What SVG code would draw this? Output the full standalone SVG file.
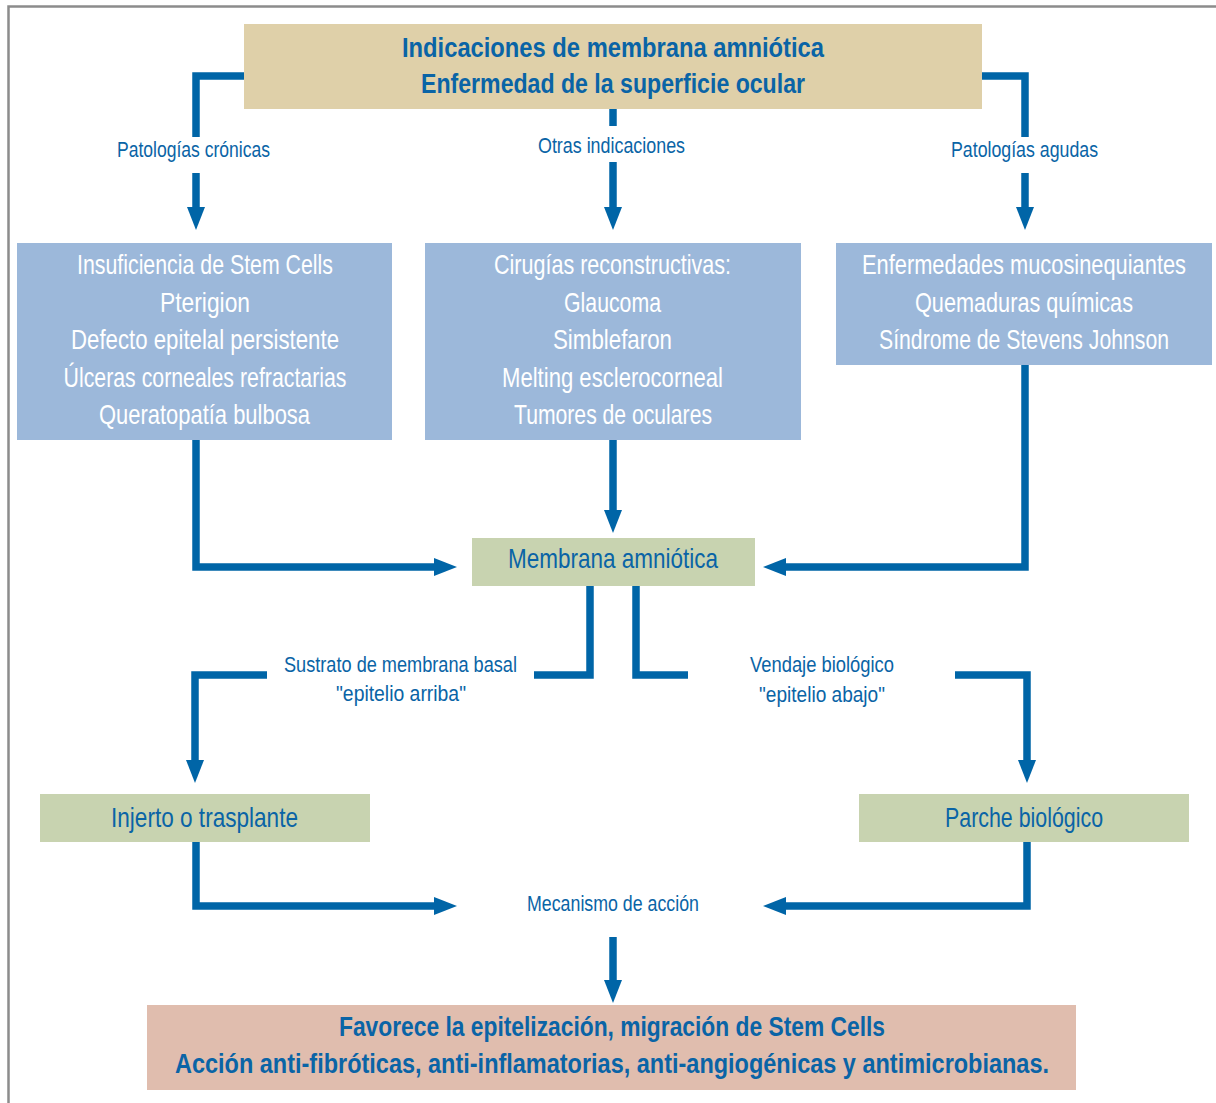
<svg xmlns="http://www.w3.org/2000/svg" width="1216" height="1103" viewBox="0 0 1216 1103">
<style>
text{font-family:"Liberation Sans",Arial,sans-serif;text-anchor:middle}
.t{font-size:28.5px;font-weight:bold;fill:#0a64a6}
.w{font-size:27px;fill:#ffffff}
.b{font-size:27px;fill:#0a64a6}
.l{font-size:22.5px;fill:#0a64a6}
.c{fill:none;stroke:#0065a7;stroke-width:7.5;stroke-linejoin:miter}
</style>
<defs>
<marker id="ah" markerUnits="userSpaceOnUse" markerWidth="24" markerHeight="18" refX="0" refY="9" orient="auto" viewBox="0 0 24 18">
<path d="M0,0 L23,9 L0,18 Z" fill="#0065a7"/>
</marker>
</defs>
<rect width="1216" height="1103" fill="#ffffff"/>
<path d="M8.5,1103 V6.5 H1216" fill="none" stroke="#8c8c8c" stroke-width="2.5"/>

<g id="connectors">
<path class="c" d="M244,76 H196 V137"/>
<path class="c" d="M196,173 V207" marker-end="url(#ah)"/>
<path class="c" d="M613,109 V126"/>
<path class="c" d="M613,162 V207" marker-end="url(#ah)"/>
<path class="c" d="M982,76 H1025 V137"/>
<path class="c" d="M1025,173 V207" marker-end="url(#ah)"/>
<path class="c" d="M196,440 V567 H434" marker-end="url(#ah)"/>
<path class="c" d="M613,440 V510" marker-end="url(#ah)"/>
<path class="c" d="M1025,365 V567 H786" marker-end="url(#ah)"/>
<path class="c" d="M590,586 V675 H534"/>
<path class="c" d="M636,586 V675 H688"/>
<path class="c" d="M267,675 H195 V760" marker-end="url(#ah)"/>
<path class="c" d="M955,675 H1027 V760" marker-end="url(#ah)"/>
<path class="c" d="M196,842 V906 H434" marker-end="url(#ah)"/>
<path class="c" d="M1027,842 V906 H786" marker-end="url(#ah)"/>
<path class="c" d="M613,937 V980" marker-end="url(#ah)"/>
</g>

<g id="labels">
<text class="l" transform="translate(193.5,157) scale(0.78,1)" textLength="196.2" lengthAdjust="spacingAndGlyphs">Patologías crónicas</text>
<text class="l" transform="translate(611.5,153) scale(0.78,1)" textLength="188.5" lengthAdjust="spacingAndGlyphs">Otras indicaciones</text>
<text class="l" transform="translate(1024.5,157) scale(0.78,1)" textLength="188.5" lengthAdjust="spacingAndGlyphs">Patologías agudas</text>
<text class="l" transform="translate(400.5,672) scale(0.78,1)" textLength="298.7" lengthAdjust="spacingAndGlyphs">Sustrato de membrana basal</text>
<text class="l" transform="translate(401,701) scale(0.78,1)" textLength="166.7" lengthAdjust="spacingAndGlyphs">"epitelio arriba"</text>
<text class="l" transform="translate(822,672) scale(0.78,1)" textLength="184.6" lengthAdjust="spacingAndGlyphs">Vendaje biológico</text>
<text class="l" transform="translate(822,702) scale(0.78,1)" textLength="161.5" lengthAdjust="spacingAndGlyphs">"epitelio abajo"</text>
<text class="l" transform="translate(613,911) scale(0.78,1)" textLength="220.5" lengthAdjust="spacingAndGlyphs">Mecanismo de acción</text>
</g>

<g id="top">
<rect x="244" y="24" width="738" height="85" fill="#dfd0a9"/>
<text class="t" transform="translate(613,57) scale(0.72,1)" textLength="586.1" lengthAdjust="spacingAndGlyphs">Indicaciones de membrana amniótica</text>
<text class="t" transform="translate(613,93) scale(0.72,1)" textLength="533.3" lengthAdjust="spacingAndGlyphs">Enfermedad de la superficie ocular</text>
</g>

<g id="chronic">
<rect x="17" y="243" width="375" height="197" fill="#9cb8da"/>
<text class="w" transform="translate(205,274) scale(0.78,1)" textLength="328.2" lengthAdjust="spacingAndGlyphs">Insuficiencia de Stem Cells</text>
<text class="w" transform="translate(205,311.5) scale(0.78,1)" textLength="115.4" lengthAdjust="spacingAndGlyphs">Pterigion</text>
<text class="w" transform="translate(205,349) scale(0.78,1)" textLength="343.6" lengthAdjust="spacingAndGlyphs">Defecto epitelal persistente</text>
<text class="w" transform="translate(205,386.5) scale(0.78,1)" textLength="362.8" lengthAdjust="spacingAndGlyphs">Úlceras corneales refractarias</text>
<text class="w" transform="translate(204.5,424) scale(0.78,1)" textLength="270.5" lengthAdjust="spacingAndGlyphs">Queratopatía bulbosa</text>
</g>

<g id="other">
<rect x="425" y="243" width="376" height="197" fill="#9cb8da"/>
<text class="w" transform="translate(612.5,274) scale(0.78,1)" textLength="303.8" lengthAdjust="spacingAndGlyphs">Cirugías reconstructivas:</text>
<text class="w" transform="translate(612.5,311.5) scale(0.78,1)" textLength="124.4" lengthAdjust="spacingAndGlyphs">Glaucoma</text>
<text class="w" transform="translate(612.5,349) scale(0.78,1)" textLength="152.6" lengthAdjust="spacingAndGlyphs">Simblefaron</text>
<text class="w" transform="translate(612.5,386.5) scale(0.78,1)" textLength="283.3" lengthAdjust="spacingAndGlyphs">Melting esclerocorneal</text>
<text class="w" transform="translate(613,424) scale(0.78,1)" textLength="253.8" lengthAdjust="spacingAndGlyphs">Tumores de oculares</text>
</g>

<g id="acute">
<rect x="836" y="243" width="376" height="122" fill="#9cb8da"/>
<text class="w" transform="translate(1024,274) scale(0.78,1)" textLength="415.4" lengthAdjust="spacingAndGlyphs">Enfermedades mucosinequiantes</text>
<text class="w" transform="translate(1024,311.5) scale(0.78,1)" textLength="279.5" lengthAdjust="spacingAndGlyphs">Quemaduras químicas</text>
<text class="w" transform="translate(1024,349) scale(0.78,1)" textLength="371.8" lengthAdjust="spacingAndGlyphs">Síndrome de Stevens Johnson</text>
</g>

<g id="membrana">
<rect x="472" y="538" width="283" height="48" fill="#c8d3b0"/>
<text class="b" transform="translate(613,568) scale(0.78,1)" textLength="269.2" lengthAdjust="spacingAndGlyphs">Membrana amniótica</text>
</g>

<g id="injerto">
<rect x="40" y="794" width="330" height="48" fill="#c8d3b0"/>
<text class="b" transform="translate(204.5,826.5) scale(0.78,1)" textLength="239.7" lengthAdjust="spacingAndGlyphs">Injerto o trasplante</text>
</g>

<g id="parche">
<rect x="859" y="794" width="330" height="48" fill="#c8d3b0"/>
<text class="b" transform="translate(1024,826.5) scale(0.78,1)" textLength="202.6" lengthAdjust="spacingAndGlyphs">Parche biológico</text>
</g>

<g id="bottom">
<rect x="147" y="1005" width="929" height="85" fill="#e0bdae"/>
<text class="t" transform="translate(612,1036) scale(0.72,1)" textLength="758.3" lengthAdjust="spacingAndGlyphs">Favorece la epitelización, migración de Stem Cells</text>
<text class="t" transform="translate(612,1073) scale(0.72,1)" textLength="1213.9" lengthAdjust="spacingAndGlyphs">Acción anti-fibróticas, anti-inflamatorias, anti-angiogénicas y antimicrobianas.</text>
</g>
</svg>
